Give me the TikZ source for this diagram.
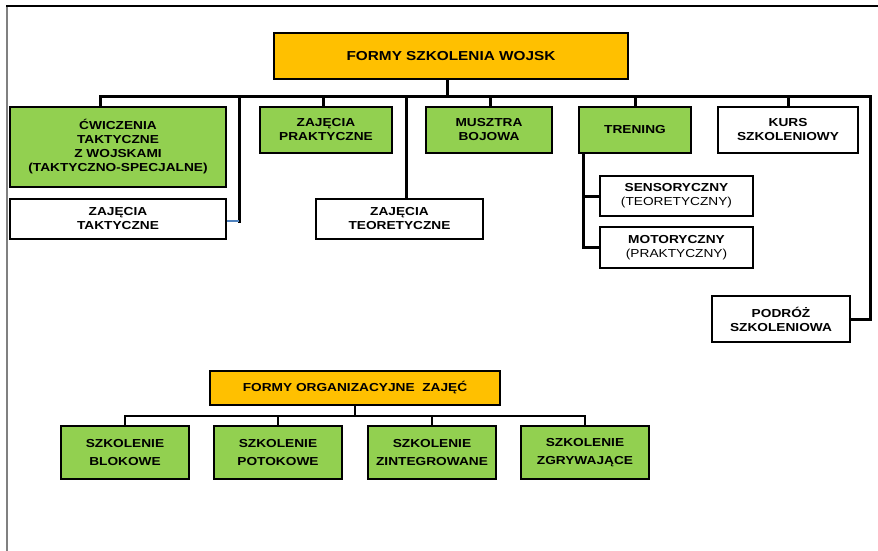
\documentclass[tikz,border=0pt]{standalone}
\usepackage{fontspec}
\setmainfont{Liberation Sans}[FakeStretch=1.18, BoldFont={Liberation Sans Bold}]
\definecolor{orng}{HTML}{FFC000}
\definecolor{grn}{HTML}{92D050}
\definecolor{stub}{HTML}{4F81BD}
\tikzset{
  box/.style={draw=black, line width=2pt, rectangle, align=center, inner sep=0pt,
    font=\bfseries\fontsize{11.6}{14}\selectfont},
  gbox/.style={box, fill=grn},
  wbox/.style={box, fill=white},
  obox/.style={box, fill=orng},
  lbox/.style={draw=black, line width=1.6pt, rectangle, align=center, inner sep=0pt,
    fill=grn, font=\bfseries\fontsize{11.6}{18.5}\selectfont},
  conn/.style={line width=3pt, line cap=rect},
  lconn/.style={line width=2pt},
}
\begin{document}
\begin{tikzpicture}[x=1pt,y=-1pt]
\useasboundingbox (0,0) rectangle (878,551);
% frame
\draw[gray, line width=2pt] (7,6) -- (7,551);
\draw[black, line width=1.2pt] (6,6) -- (878,6);

% top part
\node[obox, minimum width=354pt, minimum height=46pt, font=\bfseries\fontsize{13}{15}\selectfont] (top) at (451,56) {FORMY SZKOLENIA WOJSK};
\node[gbox, minimum width=216pt, minimum height=80pt] (cw) at (118,147) {ĆWICZENIA\\TAKTYCZNE\\Z WOJSKAMI\\(TAKTYCZNO-SPECJALNE)};
\node[wbox, minimum width=216pt, minimum height=40pt] (zt) at (118,219) {ZAJĘCIA\\TAKTYCZNE};
\node[gbox, minimum width=132pt, minimum height=46pt] (zp) at (326,130) {ZAJĘCIA\\PRAKTYCZNE};
\node[wbox, minimum width=167pt, minimum height=40pt] (zteo) at (399.5,219) {ZAJĘCIA\\TEORETYCZNE};
\node[gbox, minimum width=126pt, minimum height=46pt] (mb) at (489,130) {MUSZTRA\\BOJOWA};
\node[gbox, minimum width=112pt, minimum height=46pt] (tr) at (635,130) {TRENING};
\node[wbox, minimum width=153pt, minimum height=40pt] (sens) at (676.5,196) {SENSORYCZNY\\\mdseries(TEORETYCZNY)};
\node[wbox, minimum width=153pt, minimum height=41pt] (mot) at (676.5,247.5) {MOTORYCZNY\\\mdseries(PRAKTYCZNY)};
\node[wbox, minimum width=140pt, minimum height=46pt] (kurs) at (788,130) {KURS\\SZKOLENIOWY};
\node[wbox, minimum width=138pt, minimum height=46pt] (pod) at (781,319) {PODRÓŻ\\SZKOLENIOWA};

\coordinate (bar) at (447,96);
\coordinate (b1) at (100,96);
\coordinate (b2) at (239,96);
\coordinate (k2) at (239,221);
\coordinate (b3) at (323,96);
\coordinate (b4) at (406,96);
\coordinate (b5) at (490,96);
\coordinate (b6) at (635,96);
\coordinate (b7) at (788,96);
\coordinate (b8) at (870,96);
\coordinate (t0) at (583,153);

\draw[conn] (bar |- top.south) -- (bar);
\draw[conn] (b1) -- (b8);
\draw[conn] (b1) -- (b1 |- cw.north);
\draw[conn] (b2) -- (k2);
\draw[stub, line width=2pt] (k2) -- (k2 -| zt.east);
\draw[conn] (b3) -- (b3 |- zp.north);
\draw[conn] (b4) -- (b4 |- zteo.north);
\draw[conn] (b5) -- (b5 |- mb.north);
\draw[conn] (b6) -- (b6 |- tr.north);
\draw[conn] (b7) -- (b7 |- kurs.north);
\draw[conn, line cap=butt] (b8) |- (pod.east);
\draw[conn, line cap=butt] (t0) |- (mot.west);
\draw[conn, line cap=butt] (t0 |- sens.west) -- (sens.west);

% lower part
\node[obox, line width=1.6pt, minimum width=290pt, minimum height=34pt, font=\bfseries\fontsize{11.6}{14}\selectfont] (org) at (355,388) {FORMY ORGANIZACYJNE\ \ ZAJĘĆ};
\node[lbox, minimum width=128pt, minimum height=53pt] (bl) at (125,452.5) {SZKOLENIE\\BLOKOWE};
\node[lbox, minimum width=128pt, minimum height=53pt] (po) at (278,452.5) {SZKOLENIE\\POTOKOWE};
\node[lbox, minimum width=128pt, minimum height=53pt] (zi) at (432,452.5) {SZKOLENIE\\ZINTEGROWANE};
\node[lbox, minimum width=128pt, minimum height=53pt] (zg) at (585,452.5) {SZKOLENIE\\ZGRYWAJĄCE};

\coordinate (lb) at (355,416);
\draw[lconn] (org.south) -- (lb);
\draw[lconn] (bl.north) |- (lb);
\draw[lconn] (zg.north) |- (lb);
\draw[lconn] (po.north) -- (po.north |- lb);
\draw[lconn] (zi.north) -- (zi.north |- lb);
\end{tikzpicture}
\end{document}
